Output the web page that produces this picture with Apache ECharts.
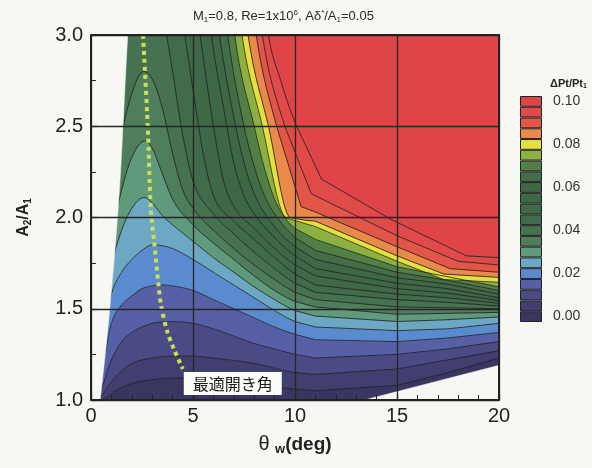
<!DOCTYPE html>
<html>
<head>
<meta charset="utf-8">
<script src="https://cdn.jsdelivr.net/npm/echarts/dist/echarts.min.js"></script>
<style>
  html, body { margin: 0; padding: 0; background: #f7f7f3; }
  #chart { width: 592px; height: 468px; }
</style>
</head>
<body>
<div id="chart"></div>
<script>
// Total-pressure-loss map ΔPt/Pt1 over diffuser wall angle θw and area ratio A2/A1.
// Each contour is stored as a polyline A2/A1 = f(θw); the field rises monotonically with A2/A1.

const levels = [0.005, 0.010, 0.015, 0.020, 0.025, 0.030, 0.035, 0.040, 0.045, 0.050,
                0.055, 0.060, 0.065, 0.070, 0.075, 0.080, 0.085, 0.090, 0.095, 0.100];

// legend cells, one per band (band k lies between level k-1 and level k)
const bandLabels = ['0.00', '0.005', '0.01', '0.015', '0.02', '0.025', '0.03', '0.035', '0.04', '0.045',
                    '0.05', '0.055', '0.06', '0.065', '0.07', '0.075', '0.08', '0.085', '0.09', '0.095', '0.10'];
const bandColors = ['#3a3662', '#413e70', '#4a4a84', '#5760a6', '#5b8bcf', '#6ca8c4', '#609a7c',
                    '#4f7e5d', '#467251', '#416c4b', '#3e6847', '#3d6746', '#3e6845', '#426d46',
                    '#527f46', '#8db141', '#e4e13e', '#e98a4a', '#e35547', '#e04a49', '#df4548'];

// contour polylines [θw, A2/A1]
const c005 = [[0, 0.95], [0.6, 1.0], [1.2, 1.05], [2, 1.09], [3, 1.11], [4, 1.12], [5, 1.12], [6, 1.11], [8, 1.08], [10, 1.06], [11, 1.05], [15, 1.08], [17.5, 1.15], [20, 1.23]];
const c010 = [[0, 0.98], [0.5, 1.02], [1, 1.1], [1.5, 1.16], [2, 1.2], [3, 1.23], [4, 1.24], [5, 1.24], [6, 1.23], [8, 1.2], [10, 1.15], [11, 1.14], [15, 1.17], [17.5, 1.22], [20, 1.27]];
const c015 = [[0, 1.0], [0.5, 1.06], [1, 1.22], [1.5, 1.32], [2, 1.37], [2.5, 1.4], [3, 1.42], [4, 1.43], [5, 1.42], [6, 1.39], [7, 1.35], [8, 1.31], [9, 1.28], [10, 1.25], [11, 1.23], [15, 1.25], [17.5, 1.28], [20, 1.32]];
const c020 = [[0, 1.05], [0.5, 1.15], [1, 1.42], [1.5, 1.52], [2, 1.57], [2.5, 1.61], [3, 1.625], [3.5, 1.63], [4, 1.625], [5, 1.6], [6, 1.55], [7, 1.5], [8, 1.45], [9, 1.4], [10, 1.36], [11, 1.33], [15, 1.32], [17.5, 1.34], [20, 1.37]];
const c025 = [[0, 1.1], [0.5, 1.3], [1, 1.58], [1.5, 1.7], [2, 1.77], [2.5, 1.82], [3, 1.85], [3.5, 1.845], [4, 1.83], [5, 1.77], [6, 1.7], [7, 1.63], [8, 1.56], [9, 1.49], [10, 1.43], [11, 1.4], [15, 1.38], [17.5, 1.39], [20, 1.42]];
const c030 = [[0, 1.2], [0.5, 1.45], [1, 1.74], [1.5, 1.93], [2, 2.05], [2.6, 2.11], [3, 2.08], [3.5, 2.01], [4, 1.96], [5, 1.87], [6, 1.78], [7, 1.7], [8, 1.62], [9, 1.55], [10, 1.49], [11, 1.46], [15, 1.43], [17.5, 1.44], [20, 1.455]];
const c035 = [[0, 1.3], [0.5, 1.6], [1, 1.9], [1.5, 2.15], [2, 2.33], [2.65, 2.42], [3, 2.38], [3.5, 2.24], [4, 2.1], [5, 1.96], [6, 1.86], [7, 1.77], [8, 1.68], [9, 1.6], [10, 1.54], [11, 1.51], [15, 1.47], [17.5, 1.475], [20, 1.48]];
const c040 = [[0, 1.4], [1, 2.1], [1.5, 2.45], [2, 2.68], [2.57, 2.8], [3, 2.76], [3.5, 2.6], [4, 2.35], [4.5, 2.15], [5, 2.05], [6, 1.93], [7, 1.83], [8, 1.74], [9, 1.66], [10, 1.59], [11, 1.55], [15, 1.51], [17.5, 1.505], [20, 1.5]];
const c045 = [[0, 3.3], [3.3, 3.2], [3.7, 3.0], [4, 2.8], [4.5, 2.45], [5, 2.2], [6, 2.02], [7, 1.91], [8, 1.81], [9, 1.72], [10, 1.64], [11, 1.59], [15, 1.55], [17.5, 1.535], [20, 1.515]];
const c050 = [[0, 3.4], [4.2, 3.3], [4.6, 3.0], [5, 2.7], [5.5, 2.35], [6, 2.12], [7, 1.98], [8, 1.88], [9, 1.78], [10, 1.69], [11, 1.63], [15, 1.58], [17.5, 1.56], [20, 1.53]];
const c055 = [[0, 3.4], [5, 3.3], [5.35, 3.0], [6, 2.5], [6.5, 2.2], [7, 2.06], [8, 1.94], [9, 1.83], [10, 1.74], [11, 1.68], [15, 1.61], [17.5, 1.585], [20, 1.545]];
const c060 = [[0, 3.4], [5.6, 3.3], [5.9, 3.0], [6.5, 2.6], [7, 2.3], [7.5, 2.12], [8, 2.02], [9, 1.89], [10, 1.79], [11, 1.72], [15, 1.64], [17.5, 1.61], [20, 1.56]];
const c065 = [[0, 3.4], [6, 3.3], [6.3, 3.0], [7, 2.55], [7.5, 2.3], [8, 2.13], [9, 1.95], [10, 1.84], [11, 1.77], [15, 1.67], [17.5, 1.635], [20, 1.58]];
const c070 = [[0, 3.4], [6.4, 3.3], [6.7, 3.0], [7.5, 2.5], [8, 2.28], [8.5, 2.12], [9, 2.02], [10, 1.89], [11, 1.82], [15, 1.7], [17.5, 1.655], [20, 1.6]];
const c075 = [[0, 3.4], [6.8, 3.3], [7.05, 3.0], [8, 2.5], [8.5, 2.27], [9, 2.1], [9.5, 2.0], [10, 1.94], [11, 1.88], [15, 1.73], [17.5, 1.675], [20, 1.62]];
const c080 = [[0, 3.45], [7.1, 3.3], [7.4, 3.0], [8.4, 2.5], [9.4, 2.02], [9.8, 1.99], [11, 1.95], [15, 1.76], [17.3, 1.66], [20, 1.645]];
const c085 = [[0, 3.5], [7.4, 3.3], [7.7, 3.0], [8.7, 2.5], [9.75, 2.0], [10.5, 1.985], [11, 1.98], [15, 1.79], [17.3, 1.69], [20, 1.672]];
const c090 = [[0, 3.55], [7.8, 3.3], [8.1, 3.0], [9.1, 2.5], [10.3, 2.06], [11, 2.03], [15, 1.84], [17.6, 1.72], [20, 1.7]];
const c095 = [[0, 3.6], [8.1, 3.3], [8.4, 3.0], [9.5, 2.5], [10.8, 2.13], [15, 1.9], [18, 1.76], [20, 1.74]];
const c100 = [[0, 3.65], [8.4, 3.3], [8.7, 3.0], [9.3, 2.75], [10, 2.52], [11.3, 2.21], [14.7, 1.99], [18.4, 1.79], [20, 1.78]];

const contours = [c005, c010, c015, c020, c025, c030, c035, c040, c045, c050,
                  c055, c060, c065, c070, c075, c080, c085, c090, c095, c100];

// outside the computed domain
const invalidLeft = [[0, 1.0], [0.45, 1.0], [0.7, 1.25], [0.92, 1.5], [1.12, 1.75], [1.3, 2.0], [1.45, 2.25], [1.57, 2.5], [1.68, 2.75], [1.8, 3.0], [0, 3.0]];
const invalidRight = [[13.4, 1.0], [20, 1.19], [20, 1.0]];

// optimum opening angle for each area ratio
const optimalAngle = [[2.55, 3.0], [2.78, 2.5], [2.93, 2.05], [3.1, 1.86], [3.3, 1.64], [3.44, 1.515], [3.75, 1.37], [4.1, 1.27], [4.5, 1.17]];
const optimalLabel = [[6.95, 1.09]];

const FONT = "'Liberation Sans', Arial, sans-serif";
const lowFloor = [[0, 0.5], [20, 0.5]];
const highCeil = [[0, 4.5], [20, 4.5]];
const SMOOTH_LIMIT = 10;   // contours are drawn as monotone cubics up to this θw, straight beyond

// Fritsch–Carlson tangents for a monotone cubic through a polyline
const tangentCache = new Map();
function tangents(curve) {
  if (tangentCache.has(curve)) return tangentCache.get(curve);
  const n = curve.length;
  const d = [];
  for (let i = 0; i < n - 1; i++) d.push((curve[i + 1][1] - curve[i][1]) / (curve[i + 1][0] - curve[i][0]));
  const m = new Array(n);
  m[0] = d[0];
  m[n - 1] = d[n - 2];
  for (let i = 1; i < n - 1; i++) m[i] = d[i - 1] * d[i] <= 0 ? 0 : (d[i - 1] + d[i]) / 2;
  for (let i = 0; i < n - 1; i++) {
    if (d[i] === 0) { m[i] = 0; m[i + 1] = 0; continue; }
    const a = m[i] / d[i], b = m[i + 1] / d[i], s = a * a + b * b;
    if (s > 9) { const tau = 3 / Math.sqrt(s); m[i] = tau * a * d[i]; m[i + 1] = tau * b * d[i]; }
  }
  tangentCache.set(curve, m);
  return m;
}

function curveAt(curve, t) {
  const n = curve.length;
  if (t <= curve[0][0]) return curve[0][1];
  if (t >= curve[n - 1][0]) return curve[n - 1][1];
  let i = 0;
  while (i < n - 2 && t > curve[i + 1][0]) i++;
  const x0 = curve[i][0], x1 = curve[i + 1][0], y0 = curve[i][1], y1 = curve[i + 1][1];
  const h = x1 - x0, u = (t - x0) / h;
  if (x1 > SMOOTH_LIMIT) return y0 + (y1 - y0) * u;
  const m = tangents(curve);
  const u2 = u * u, u3 = u2 * u;
  return (2 * u3 - 3 * u2 + 1) * y0 + (u3 - 2 * u2 + u) * h * m[i] + (-2 * u3 + 3 * u2) * y1 + (u3 - u2) * h * m[i + 1];
}

function sampleThetas(curves) {
  const set = new Set();
  for (let t = 0; t <= SMOOTH_LIMIT + 1e-9; t += 0.1) set.add(Math.round(t * 10) / 10);
  curves.forEach(c => c.forEach(p => set.add(p[0])));
  set.add(20);
  return Array.from(set).sort((a, b) => a - b);
}

function clipRect(params) {
  const cs = params.coordSys;
  return { type: 'rect', shape: { x: cs.x, y: cs.y, width: cs.width, height: cs.height } };
}

function renderBand(params, api) {
  const k = params.dataIndex;
  const lower = k === 0 ? lowFloor : contours[k - 1];
  const upper = k === contours.length ? highCeil : contours[k];
  const ts = sampleThetas([lower, upper]);
  const pts = ts.map(t => api.coord([t, curveAt(upper, t)]));
  for (let i = ts.length - 1; i >= 0; i--) pts.push(api.coord([ts[i], curveAt(lower, ts[i])]));
  return {
    type: 'polygon',
    shape: { points: pts },
    style: { fill: bandColors[k], stroke: bandColors[k], lineWidth: 0.6 },
    clipPath: clipRect(params)
  };
}

function renderContour(params, api) {
  const curve = contours[params.dataIndex];
  const ts = sampleThetas([curve]);
  return {
    type: 'polyline',
    shape: { points: ts.map(t => api.coord([t, curveAt(curve, t)])) },
    style: { fill: null, stroke: '#1c1c1c', lineWidth: 0.8 },
    clipPath: clipRect(params)
  };
}

function renderMask(params, api) {
  const poly = params.dataIndex === 0 ? invalidLeft : invalidRight;
  return {
    type: 'polygon',
    shape: { points: poly.map(p => api.coord(p)) },
    style: { fill: '#f7f7f3', stroke: '#f7f7f3', lineWidth: 0.5 },
    clipPath: clipRect(params)
  };
}

const axisColor = '#222';

const option = {
  backgroundColor: '#f7f7f3',
  animation: false,
  title: [
    {
      text: 'M{s|1}=0.8, Re=1x10{p|6}, Aδ{p|*}/A{s|1}=0.05',
      left: 188, top: 4,
      textStyle: {
        fontFamily: FONT, fontSize: 13, fontWeight: 'normal', color: '#2a2a2a',
        rich: {
          s: { fontFamily: FONT, fontSize: 8, color: '#2a2a2a', padding: [7, 0, 0, 0] },
          p: { fontFamily: FONT, fontSize: 8, color: '#2a2a2a', padding: [0, 0, 7, 0] }
        }
      }
    },
    {
      text: 'ΔPt/Pt{s|1}',
      left: 545, top: 72,
      textStyle: {
        fontFamily: FONT, fontSize: 11, fontWeight: 'bold', color: '#222',
        rich: { s: { fontFamily: FONT, fontSize: 7, fontWeight: 'bold', color: '#222', padding: [6, 0, 0, 0] } }
      }
    }
  ],
  grid: [
    { left: 91, right: 93, top: 35, bottom: 68 },
    { left: 520, top: 96, width: 22, height: 226 }
  ],
  xAxis: [
    {
      type: 'value', gridIndex: 0, min: 0, max: 20, interval: 5, z: 10,
      name: '{t|θ }{w|w}(deg)', nameLocation: 'middle', nameGap: 33,
      nameTextStyle: {
        fontFamily: FONT, fontSize: 19, fontWeight: 'bold', color: '#222',
        rich: {
          t: { fontFamily: FONT, fontSize: 20, fontWeight: 'normal', color: '#222' },
          w: { fontFamily: FONT, fontSize: 13, fontWeight: 'bold', color: '#222', padding: [10, 0, 0, 0] }
        }
      },
      axisLine: { show: true, onZero: false, lineStyle: { color: axisColor, width: 2 } },
      axisTick: { show: true, inside: true, length: 6, lineStyle: { color: axisColor, width: 1.2 } },
      minorTick: { show: true, splitNumber: 5, length: 5, lineStyle: { color: axisColor, width: 1 } },
      splitLine: { show: true, lineStyle: { color: '#262626', width: 1.3 } },
      axisLabel: { fontFamily: FONT, fontSize: 20, color: '#222', margin: 6 }
    },
    {
      type: 'value', gridIndex: 0, min: 0, max: 20, position: 'top', z: 10,
      axisLine: { show: true, onZero: false, lineStyle: { color: axisColor, width: 2 } },
      axisTick: { show: false }, axisLabel: { show: false }, splitLine: { show: false }
    },
    { type: 'value', gridIndex: 1, min: 0, max: 1, show: false }
  ],
  yAxis: [
    {
      type: 'value', gridIndex: 0, min: 1, max: 3, interval: 0.5, z: 10,
      name: 'A{s|2}/A{s|1}', nameLocation: 'middle', nameGap: 58,
      nameTextStyle: {
        fontFamily: FONT, fontSize: 16, fontWeight: 'bold', color: '#222',
        rich: { s: { fontFamily: FONT, fontSize: 10, fontWeight: 'bold', color: '#222', padding: [8, 0, 0, 0] } }
      },
      axisLine: { show: true, onZero: false, lineStyle: { color: axisColor, width: 2 } },
      axisTick: { show: true, inside: true, length: 6, lineStyle: { color: axisColor, width: 1.2 } },
      minorTick: { show: true, splitNumber: 2, length: 5, lineStyle: { color: axisColor, width: 1 } },
      splitLine: { show: true, lineStyle: { color: '#262626', width: 1.3 } },
      axisLabel: { fontFamily: FONT, fontSize: 20, color: '#222', margin: 8, formatter: v => v.toFixed(1) }
    },
    {
      type: 'value', gridIndex: 0, min: 1, max: 3, position: 'right', z: 10,
      axisLine: { show: true, onZero: false, lineStyle: { color: axisColor, width: 2 } },
      axisTick: { show: false }, axisLabel: { show: false }, splitLine: { show: false }
    },
    {
      type: 'category', gridIndex: 1, data: bandLabels, position: 'right',
      axisLine: { show: false }, axisTick: { show: false }, splitLine: { show: false },
      axisLabel: {
        interval: 3, fontFamily: FONT, fontSize: 14, color: '#333', margin: 11,
        formatter: v => Number(v).toFixed(2)
      }
    }
  ],
  series: [
    {
      type: 'custom', name: 'bands', xAxisIndex: 0, yAxisIndex: 0, z: 1, silent: true,
      renderItem: renderBand,
      data: bandColors.map((c, i) => [i, 0])
    },
    {
      type: 'custom', name: 'contours', xAxisIndex: 0, yAxisIndex: 0, z: 2, silent: true,
      renderItem: renderContour,
      data: levels.map((v, i) => [i, v])
    },
    {
      type: 'custom', name: 'outside', xAxisIndex: 0, yAxisIndex: 0, z: 3, silent: true,
      renderItem: renderMask,
      data: [[0, 0], [1, 0]]
    },
    {
      type: 'line', name: 'optimum', xAxisIndex: 0, yAxisIndex: 0, z: 5,
      data: optimalAngle, smooth: 0.3, symbol: 'none', clip: true, silent: true,
      lineStyle: { color: '#cfe04c', width: 4, type: [4, 4], cap: 'butt' }
    },
    {
      type: 'scatter', name: 'note', xAxisIndex: 0, yAxisIndex: 0, z: 12, silent: true,
      data: optimalLabel, symbolSize: 0,
      itemStyle: { opacity: 1 },
      label: {
        show: true, position: 'inside', formatter: '最適開き角', opacity: 1,
        fontFamily: "'Noto Sans CJK JP', sans-serif", fontSize: 16, color: '#1a1a1a',
        backgroundColor: '#fbfbf8', padding: [4, 9, 3, 9]
      }
    },
    {
      type: 'bar', name: 'legend', xAxisIndex: 2, yAxisIndex: 2, silent: true,
      barWidth: '100%',
      data: bandColors.map(c => ({ value: 1, itemStyle: { color: c } })),
      itemStyle: { borderColor: '#222', borderWidth: 1 }
    }
  ]
};

const chart = echarts.init(document.getElementById('chart'), null, { renderer: 'canvas' });
chart.setOption(option);
</script>
</body>
</html>
